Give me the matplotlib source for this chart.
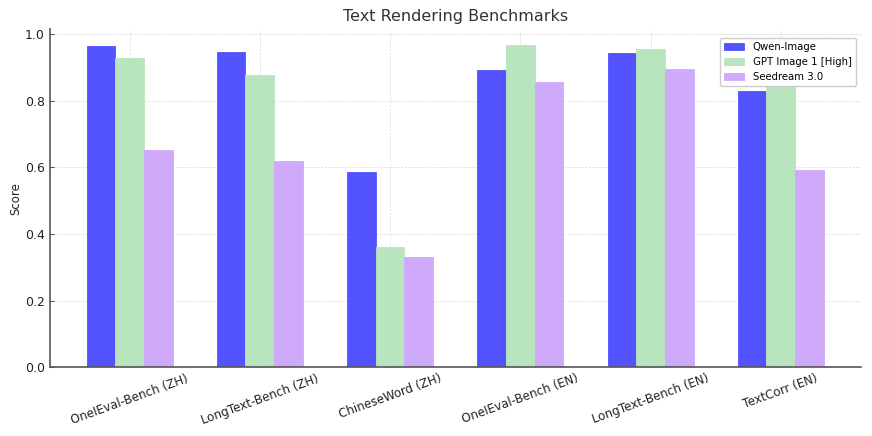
import matplotlib
matplotlib.use("Agg")
import matplotlib.pyplot as plt
import numpy as np

categories = ["OneIEval-Bench (ZH)", "LongText-Bench (ZH)", "ChineseWord (ZH)",
              "OneIEval-Bench (EN)", "LongText-Bench (EN)", "TextCorr (EN)"]
series_names = ["Qwen-Image", "GPT Image 1 [High]", "Seedream 3.0"]
qwen = [0.964, 0.947, 0.585, 0.892, 0.945, 0.830]
gpt = [0.928, 0.879, 0.361, 0.967, 0.957, 0.880]
seedream = [0.651, 0.620, 0.330, 0.858, 0.897, 0.592]
colors = ["#5252FF", "#B8E5BE", "#CFAAFB"]

fig = plt.figure(figsize=(8.72, 4.36), dpi=100)
ax = fig.add_axes([0.057, 0.158, 0.930, 0.775])

x = np.arange(len(categories))
w = 0.22
for i, (vals, name, c) in enumerate(zip([qwen, gpt, seedream], series_names, colors)):
    ax.bar(x + (i - 1) * w, vals, w, label=name, color=c, edgecolor=c, linewidth=0.6, zorder=2)

ax.set_xticks(x)
ax.set_xticklabels(categories, rotation=20, ha="center", fontsize=8.6, color="#222222")
ax.set_yticks([0.0, 0.2, 0.4, 0.6, 0.8, 1.0])
ax.set_yticklabels(["0.0", "0.2", "0.4", "0.6", "0.8", "1.0"], fontsize=9, color="#222222")
ax.set_ylabel("Score", fontsize=8.5, color="#222222", labelpad=2)
ax.set_title("Text Rendering Benchmarks", fontsize=11.5, color="#333333")
ax.tick_params(direction="in", length=3, color="#555555")
ax.grid(True, linestyle=(0, (3, 2)), color="#d4d4d4", linewidth=0.5, zorder=0)
ax.set_axisbelow(True)
for s in ["top", "right"]:
    ax.spines[s].set_visible(False)
for s in ["left", "bottom"]:
    ax.spines[s].set_color("#555555")
    ax.spines[s].set_linewidth(1.2)
ax.legend(loc="upper right", fontsize=7.3, framealpha=1.0, edgecolor="#cccccc", fancybox=True,
          bbox_to_anchor=(1.0, 0.99))

fig.savefig("out.png", dpi=100)
